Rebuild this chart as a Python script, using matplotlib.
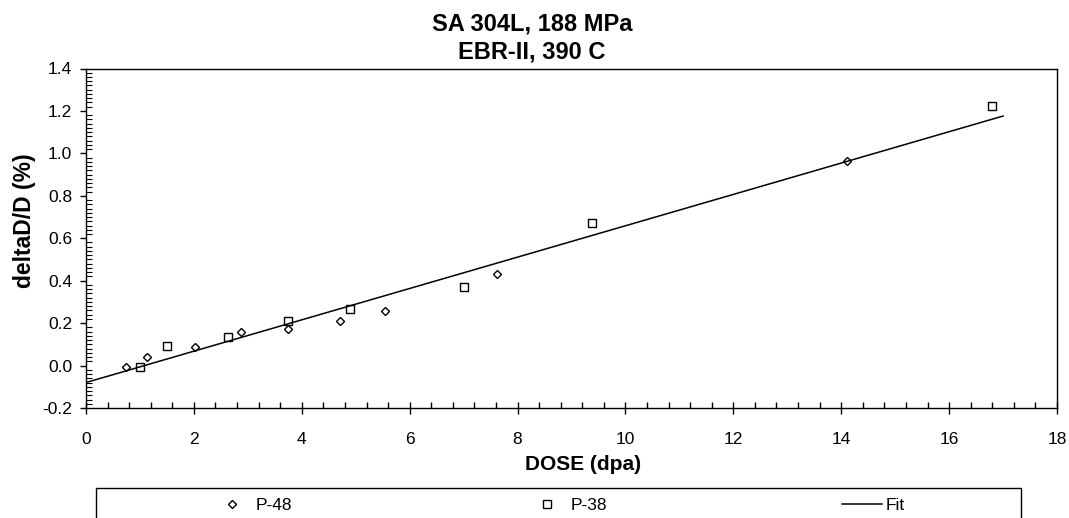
import numpy as np
import matplotlib
matplotlib.use("Agg")
import matplotlib.pyplot as plt
from matplotlib.patches import Rectangle
from matplotlib.ticker import MultipleLocator, FormatStrFormatter

plt.rcParams['font.family'] = ['Liberation Sans', 'DejaVu Sans']

# P-48 specimens (diamonds)
p48_dose = [0.75, 1.13, 2.02, 2.87, 3.75, 4.71, 5.54, 7.62, 14.11]
p48_strain = [-0.005, 0.04, 0.087, 0.16, 0.174, 0.209, 0.256, 0.432, 0.962]

# P-38 specimens (squares)
p38_dose = [1.0, 1.51, 2.63, 3.75, 4.89, 7.01, 9.38, 16.8]
p38_strain = [-0.005, 0.094, 0.135, 0.21, 0.268, 0.371, 0.671, 1.221]

# linear fit end points
fit_dose = [0.0, 17.0]
fit_strain = [-0.08, 1.176]

W, H = 1069, 518
fig = plt.figure(figsize=(W / 100, H / 100), dpi=100)
ax = fig.add_axes([86 / W, 1 - 408 / H, (1057 - 86) / W, (408 - 68.5) / H])

ax.plot(p48_dose, p48_strain, linestyle='none', marker='D', markersize=4.3,
        markerfacecolor='white', markeredgecolor='black', markeredgewidth=1.0,
        label='P-48')
ax.plot(p38_dose, p38_strain, linestyle='none', marker='s', markersize=6.2,
        markerfacecolor='white', markeredgecolor='black', markeredgewidth=1.0,
        label='P-38')
ax.plot(fit_dose, fit_strain, color='black', linewidth=1.1, label='Fit')

ax.set_xlim(0, 18)
ax.set_ylim(-0.2, 1.4)
ax.xaxis.set_major_locator(MultipleLocator(2))
ax.xaxis.set_minor_locator(MultipleLocator(0.4))
ax.yaxis.set_major_locator(MultipleLocator(0.2))
ax.yaxis.set_minor_locator(MultipleLocator(0.02))
ax.yaxis.set_major_formatter(FormatStrFormatter('%.1f'))

ax.tick_params(axis='x', which='major', direction='inout', length=8, width=1,
               labelsize=12.5, pad=13)
ax.tick_params(axis='x', which='minor', direction='in', length=4, width=1)
ax.tick_params(axis='y', which='major', direction='out', length=4, width=1,
               labelsize=12.5, pad=6)
ax.tick_params(axis='y', which='minor', direction='in', length=4, width=0.8)
for s in ax.spines.values():
    s.set_linewidth(1.0)

# titles and axis labels, placed as in the source figure
fig.text(532 / W, 1 - 30 / H, 'SA 304L, 188 MPa', ha='center', va='baseline',
         fontsize=17, fontweight='bold')
fig.text(532 / W, 1 - 58 / H, 'EBR-II, 390 C', ha='center', va='baseline',
         fontsize=17, fontweight='bold')
fig.text(583.5 / W, 1 - 470 / H, 'DOSE (dpa)', ha='center', va='baseline',
         fontsize=15, fontweight='bold')
fig.text(24 / W, 1 - 221 / H, 'deltaD/D (%)', ha='center', va='center',
         rotation=90, fontsize=16.5, fontweight='bold')

# legend box runs past the bottom edge of the figure
fig.patches.append(Rectangle((96 / W, -0.1), (1021 - 96) / W, (H - 488) / H + 0.1,
                             transform=fig.transFigure, fill=False,
                             edgecolor='black', linewidth=1.0))
handles, labels = ax.get_legend_handles_labels()
fig.legend(handles, labels, ncol=3, mode='expand', frameon=False,
           bbox_to_anchor=(212 / W, 1 - 518 / H, (905 - 212) / W, (518 - 492) / H),
           loc='center', fontsize=12.5, handlelength=2.3, handletextpad=0.2,
           borderpad=0, borderaxespad=0)

fig.savefig('out.png', dpi=100)
